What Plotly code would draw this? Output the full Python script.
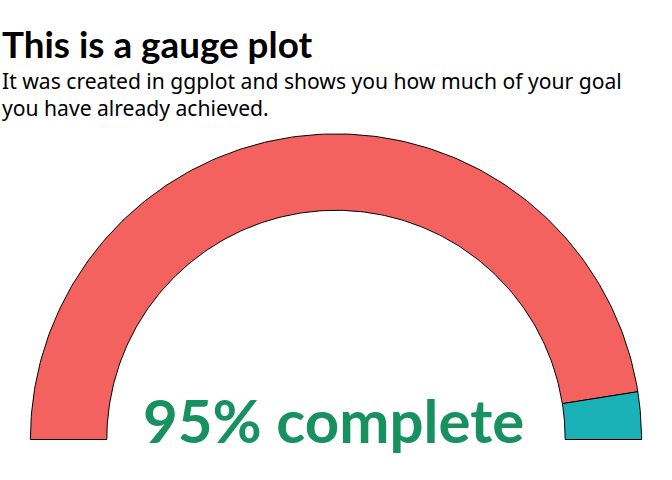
import numpy as np
import plotly.graph_objects as go

# Data
categories = ["achieved", "remaining"]
values = [95, 5]
colors = ["#F3625E", "#1AB2B6"]
title_text = "This is a gauge plot"
subtitle_lines = ["It was created in ggplot and shows you how much of your goal",
                  "you have already achieved."]

R_OUT, R_IN = 1.0, 0.75
total = sum(values)
cum = np.concatenate([[0], np.cumsum(values)]) / total

fig = go.Figure()
for i, cat in enumerate(categories):
    a0 = np.pi * (1 - cum[i])
    a1 = np.pi * (1 - cum[i + 1])
    t = np.linspace(a0, a1, 200)
    xs = np.concatenate([R_OUT * np.cos(t), R_IN * np.cos(t[::-1]), [R_OUT * np.cos(t[0])]])
    ys = np.concatenate([R_OUT * np.sin(t), R_IN * np.sin(t[::-1]), [R_OUT * np.sin(t[0])]])
    fig.add_trace(go.Scatter(x=xs, y=ys, mode="lines", fill="toself",
                             fillcolor=colors[i], line=dict(color="black", width=1),
                             name=cat, hoverinfo="skip", showlegend=False))

fig.add_annotation(x=0, y=0, xref="x", yref="y", text=f"<b>{values[0]}% complete</b>",
                   showarrow=False, yanchor="middle", xanchor="center", yshift=20, xshift=-3,
                   font=dict(family="Lato", size=60, color="#17915F"))

fig.add_annotation(x=0, y=1 - 20 / 480, xref="paper", yref="paper", text=f"<b>{title_text}</b>",
                   showarrow=False, xanchor="left", yanchor="top", xshift=0,
                   font=dict(family="Lato", size=36.8, color="black"))
fig.add_annotation(x=0, y=1 - 64 / 480, xref="paper", yref="paper",
                   text="<br>".join(subtitle_lines), align="left",
                   showarrow=False, xanchor="left", yanchor="top",
                   font=dict(family="Noto Sans", size=21.1, color="black"))

fig.update_layout(width=672, height=480, margin=dict(l=0, r=0, t=0, b=0),
                  paper_bgcolor="white", plot_bgcolor="white",
                  xaxis=dict(range=[-336 / 305.6, 336 / 305.6], visible=False, fixedrange=True),
                  yaxis=dict(range=[-40.5 / 305.6, 439.5 / 305.6], visible=False, fixedrange=True))
fig.write_html("out.html")
